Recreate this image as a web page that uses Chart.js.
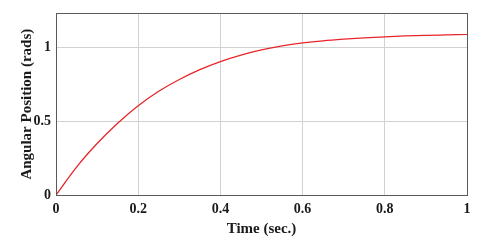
<!DOCTYPE html>
<html>
<head>
<meta charset="utf-8">
<script src="https://cdn.jsdelivr.net/npm/chart.js@4.4.1/dist/chart.umd.min.js"></script>
<style>
    html, body { margin: 0; padding: 0; background: #ffffff; }
    #wrap { width: 480px; height: 247px; }
</style>
</head>
<body>
<div id="wrap"><canvas id="stepChart"></canvas></div>
<script>
// Step response samples
const timeSec = [0, 0.05, 0.1, 0.15, 0.2, 0.25, 0.3, 0.35, 0.4, 0.45, 0.5,
                 0.55, 0.6, 0.65, 0.7, 0.75, 0.8, 0.85, 0.9, 0.95, 1.0];
const angleRad = [0, 0.19, 0.35, 0.488, 0.607, 0.705, 0.785, 0.852, 0.907, 0.951, 0.986,
                  1.013, 1.033, 1.048, 1.059, 1.068, 1.075, 1.081, 1.085, 1.088, 1.091];
const xTicks = [0, 0.2, 0.4, 0.6, 0.8, 1];
const yTicks = [0, 0.5, 1];

const serif = "'Liberation Serif', 'Times New Roman', serif";

// Box around the plot area
const boxPlugin = {
    id: 'box',
    afterDraw(chart) {
        const a = chart.chartArea;
        const ctx = chart.ctx;
        ctx.save();
        ctx.strokeStyle = '#5a5a5a';
        ctx.lineWidth = 1;
        ctx.strokeRect(Math.round(a.left) + 0.5, Math.round(a.top) + 0.5,
            Math.round(a.right - a.left), Math.round(a.bottom - a.top));
        ctx.restore();
    }
};

// plain number labels, like "0.2" and "1"
function plainLabel(value) {
    return String(Math.round(value * 100) / 100);
}

const points = timeSec.map((t, i) => ({ x: t, y: angleRad[i] }));

new Chart(document.getElementById('stepChart'), {
    type: 'line',
    data: {
        datasets: [{
            data: points,
            borderColor: '#e8262a',
            borderWidth: 1.3,
            pointRadius: 0,
            cubicInterpolationMode: 'monotone',
            fill: false
        }]
    },
    options: {
        responsive: true,
        maintainAspectRatio: false,
        animation: false,
        layout: { padding: { top: 9, right: 13, left: 0, bottom: 0 } },
        plugins: {
            legend: { display: false },
            tooltip: { enabled: false }
        },
        scales: {
            x: {
                type: 'linear',
                min: 0,
                max: 1,
                afterFit(scale) { scale.height = 52; },
                afterBuildTicks(scale) {
                    scale.ticks = xTicks.map(v => ({ value: v }));
                },
                ticks: {
                    color: '#1a1a1a',
                    padding: 6,
                    maxRotation: 0,
                    callback: plainLabel,
                    font: { family: serif, size: 14, weight: 'bold' }
                },
                grid: { color: '#d2d2d2', drawTicks: false },
                border: { display: false },
                title: {
                    display: true,
                    text: 'Time (sec.)',
                    color: '#1a1a1a',
                    padding: { top: 0, bottom: 9 },
                    font: { family: serif, size: 15, weight: 'bold' }
                }
            },
            y: {
                min: 0,
                max: 1.234,
                afterFit(scale) { scale.width = 56; },
                afterBuildTicks(scale) {
                    scale.ticks = yTicks.map(v => ({ value: v }));
                },
                ticks: {
                    color: '#1a1a1a',
                    padding: 5,
                    callback: plainLabel,
                    font: { family: serif, size: 14, weight: 'bold' }
                },
                grid: { color: '#d2d2d2', drawTicks: false },
                border: { display: false },
                title: {
                    display: true,
                    text: 'Angular Position (rads)',
                    color: '#1a1a1a',
                    padding: { top: 18, bottom: 0 },
                    font: { family: serif, size: 15, weight: 'bold' }
                }
            }
        }
    },
    plugins: [boxPlugin]
});
</script>
</body>
</html>
